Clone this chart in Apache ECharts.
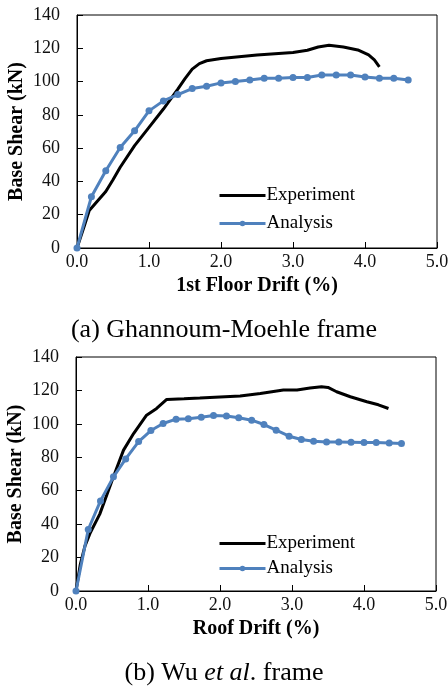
<!DOCTYPE html>
<html>
<head>
<meta charset="utf-8">
<style>
  html, body { margin: 0; padding: 0; background: #fff; }
  #chart { width: 448px; height: 686px; }
</style>
<script src="https://cdn.jsdelivr.net/npm/echarts@6/dist/echarts.min.js"></script>
</head>
<body>
<div id="chart"></div>
<script>
// Pushover curves: base shear (kN) vs drift (%)
const seriesNames = ['Experiment', 'Analysis'];
const captionA = '(a) Ghannoum-Moehle frame';
const xTitleA = '1st Floor Drift (%)';
const xTitleB = 'Roof Drift (%)';
const yTitle = 'Base Shear (kN)';

// (a) Ghannoum-Moehle frame
const expDriftA = [0, 0.1, 0.17, 0.3, 0.4, 0.5, 0.6, 0.8, 1.0, 1.2, 1.4, 1.5, 1.6, 1.7, 1.8, 2.0, 2.5, 3.0, 3.2, 3.35, 3.5, 3.7, 3.9, 4.05, 4.13, 4.2];
const expShearA = [0, 13, 22.5, 29, 34, 41, 48.5, 61.5, 72.5, 83.5, 95.5, 101.8, 107.5, 110.8, 112.5, 113.8, 116, 117.5, 118.8, 120.8, 121.8, 120.8, 119, 116, 113, 108.8];
const anaDriftA = [0, 0.2, 0.4, 0.6, 0.8, 1.0, 1.2, 1.4, 1.6, 1.8, 2.0, 2.2, 2.4, 2.6, 2.8, 3.0, 3.2, 3.4, 3.6, 3.8, 4.0, 4.2, 4.4, 4.6];
const anaShearA = [0, 30.8, 46.4, 60.4, 70.4, 82.4, 88.4, 92.2, 95.8, 97.2, 99.2, 100, 101, 102, 102, 102.4, 102.4, 104, 104, 104, 102.8, 102, 102, 101];

// (b) Wu et al. frame
const expDriftB = [0, 0.06, 0.125, 0.2, 0.33, 0.52, 0.66, 0.8, 0.98, 1.12, 1.26, 1.5, 1.72, 2.0, 2.28, 2.56, 2.88, 3.07, 3.25, 3.41, 3.5, 3.62, 3.81, 4.04, 4.2, 4.34];
const expShearB = [0, 16, 27, 35, 46, 68.3, 84.3, 94.2, 105.2, 109.2, 114.6, 115, 115.4, 116, 116.6, 118.2, 120.2, 120.2, 121.4, 122.2, 121.8, 119.2, 116.2, 113.2, 111.4, 109.2];
const anaDriftB = [0, 0.17, 0.34, 0.52, 0.69, 0.87, 1.04, 1.21, 1.39, 1.56, 1.74, 1.91, 2.09, 2.26, 2.44, 2.61, 2.78, 2.96, 3.13, 3.30, 3.48, 3.65, 3.82, 4.00, 4.17, 4.35, 4.52];
const anaShearB = [0, 36.8, 53.9, 68.3, 79, 89.4, 96, 100.2, 102.8, 103, 104, 105, 104.7, 103.6, 102.2, 99.6, 96.2, 92.6, 90.6, 89.6, 89.2, 89.2, 89, 88.8, 88.8, 88.6, 88.2];

const xTicks = { min: 0, max: 5, interval: 1 };
const yTicks = { min: 0, max: 140, interval: 20 };

const FONT = '"Liberation Serif", "Times New Roman", serif';
const BLUE = '#4F81BD';

function pairs(xs, ys) { return xs.map((x, i) => [x, ys[i]]); }

function xAxisFor(gridIndex, name) {
  return {
    type: 'value', gridIndex, min: xTicks.min, max: xTicks.max, interval: xTicks.interval,
    name, nameLocation: 'middle', nameGap: 28, nameMoveOverlap: false,
    nameTextStyle: { fontFamily: FONT, fontSize: 20, fontWeight: 'bold', color: '#000' },
    axisLine: { show: true, onZero: false, lineStyle: { color: '#000', width: 1 } },
    axisTick: { show: true, inside: true, length: 6, lineStyle: { color: '#000' } },
    axisLabel: { fontFamily: FONT, fontSize: 18, color: '#111', margin: 5,
                 formatter: v => v.toFixed(1) },
    splitLine: { show: false }
  };
}
function yAxisFor(gridIndex) {
  return {
    type: 'value', gridIndex, min: yTicks.min, max: yTicks.max, interval: yTicks.interval,
    name: yTitle, nameLocation: 'middle', nameGap: 50, nameMoveOverlap: false,
    nameTextStyle: { fontFamily: FONT, fontSize: 20, fontWeight: 'bold', color: '#000' },
    axisLine: { show: true, onZero: false, lineStyle: { color: '#000', width: 1 } },
    axisTick: { show: true, inside: true, length: 6, lineStyle: { color: '#000' } },
    axisLabel: { fontFamily: FONT, fontSize: 18, color: '#111', margin: 17 },
    splitLine: { show: false }
  };
}
function legendFor(top, gap) {
  return {
    data: [
      { name: seriesNames[0], itemStyle: { opacity: 0 } },
      { name: seriesNames[1] }
    ],
    orient: 'vertical', left: 213, top, itemWidth: 46, itemHeight: 7, itemGap: gap,
    lineStyle: { width: 3 },
    textStyle: { fontFamily: FONT, fontSize: 19, color: '#000', padding: [0, 0, 0, -4] }
  };
}
function expSeries(idx, data) {
  return {
    name: seriesNames[0], type: 'line', xAxisIndex: idx, yAxisIndex: idx, data,
    showSymbol: false, symbol: 'none', lineStyle: { color: '#000', width: 3 },
    itemStyle: { color: '#000' }, z: 3, animation: false
  };
}
function anaSeries(idx, data) {
  return {
    name: seriesNames[1], type: 'line', xAxisIndex: idx, yAxisIndex: idx, data,
    symbol: 'circle', symbolSize: 7, lineStyle: { color: BLUE, width: 3 },
    itemStyle: { color: BLUE }, z: 4, animation: false
  };
}

const gridBase = { show: true, borderColor: '#000', borderWidth: 1, backgroundColor: 'transparent',
                   containLabel: false, outerBoundsMode: 'none' };

const chart = echarts.init(document.getElementById('chart'), null, { renderer: 'canvas' });
chart.setOption({
  backgroundColor: '#fff',
  animation: false,
  grid: [
    Object.assign({ left: 77, top: 15, width: 360, height: 233 }, gridBase),
    Object.assign({ left: 76, top: 357, width: 360, height: 234 }, gridBase)
  ],
  xAxis: [xAxisFor(0, xTitleA), xAxisFor(1, xTitleB)],
  yAxis: [yAxisFor(0), yAxisFor(1)],
  legend: [legendFor(181, 9), legendFor(529, 6)],
  title: [
    { text: captionA, left: 'center', top: 312,
      textStyle: { fontFamily: FONT, fontSize: 26, fontWeight: 'normal', color: '#000' } },
    { text: '{n|(b) Wu }{i|et al}{n|. frame}', left: 'center', top: 655,
      textStyle: { fontWeight: 'normal', rich: {
        n: { fontFamily: FONT, fontSize: 26, fontWeight: 'normal', color: '#000' },
        i: { fontFamily: FONT, fontSize: 26, fontWeight: 'normal', fontStyle: 'italic', color: '#000' }
      } } }
  ],
  series: [
    expSeries(0, pairs(expDriftA, expShearA)),
    anaSeries(0, pairs(anaDriftA, anaShearA)),
    expSeries(1, pairs(expDriftB, expShearB)),
    anaSeries(1, pairs(anaDriftB, anaShearB))
  ]
});
</script>
</body>
</html>
